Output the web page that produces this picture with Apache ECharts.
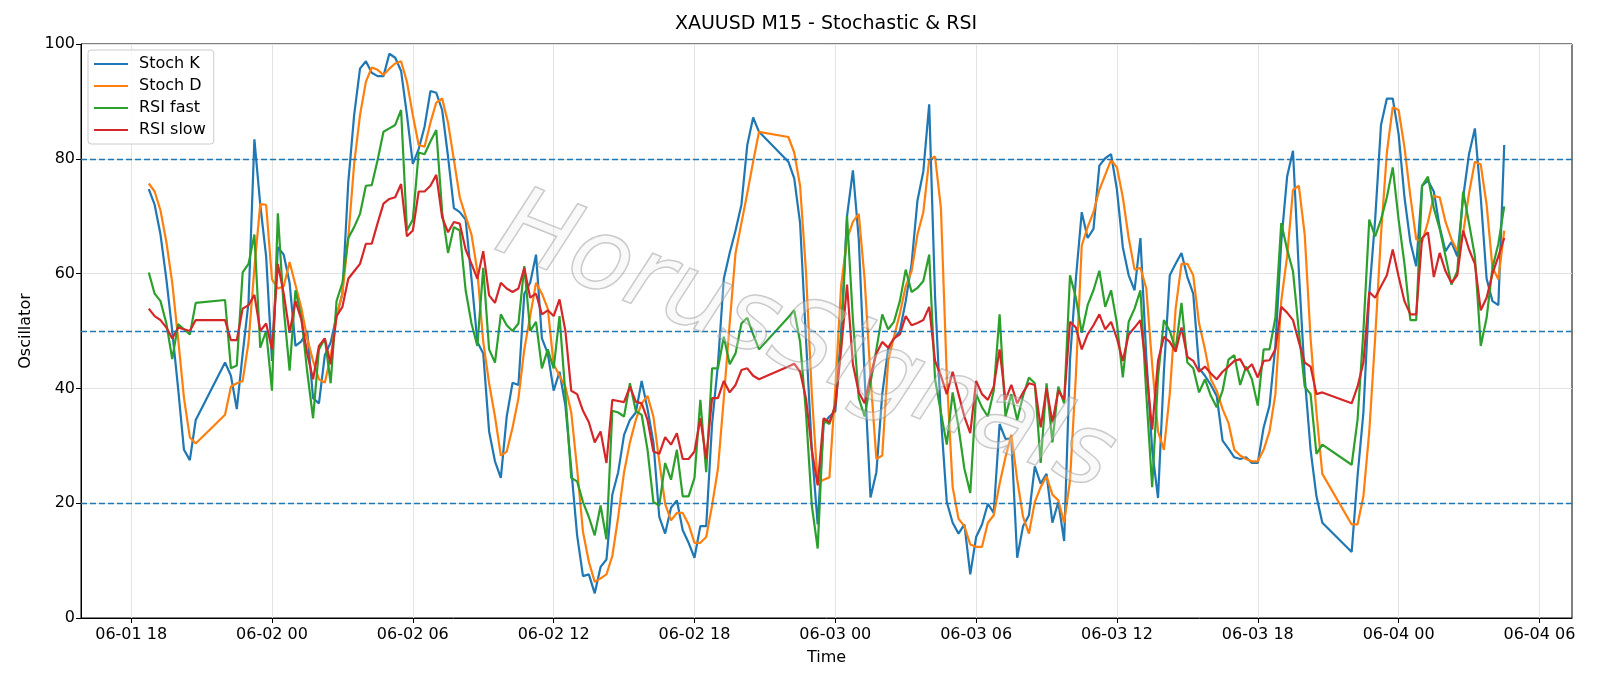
<!DOCTYPE html>
<html>
<head>
<meta charset="utf-8">
<title>XAUUSD M15 - Stochastic &amp; RSI</title>
<script src="https://cdn.jsdelivr.net/npm/echarts@6.0.0/dist/echarts.min.js"></script>
<style>
html, body { margin: 0; padding: 0; background: #fff; }
#chart { width: 1600px; height: 686px; }
</style>
</head>
<body>
<div id="chart"></div>
<script>
// M15 bars, the 21:00-21:45 break is missing each day
var times = [
    '06-01 18:45', '06-01 19:00', '06-01 19:15', '06-01 19:30', '06-01 19:45',
    '06-01 20:00', '06-01 20:15', '06-01 20:30', '06-01 20:45',
    '06-01 22:00', '06-01 22:15', '06-01 22:30', '06-01 22:45',
    '06-01 23:00', '06-01 23:15', '06-01 23:30', '06-01 23:45',
    '06-02 00:00', '06-02 00:15', '06-02 00:30', '06-02 00:45',
    '06-02 01:00', '06-02 01:15', '06-02 01:30', '06-02 01:45',
    '06-02 02:00', '06-02 02:15', '06-02 02:30', '06-02 02:45',
    '06-02 03:00', '06-02 03:15', '06-02 03:30', '06-02 03:45',
    '06-02 04:00', '06-02 04:15', '06-02 04:30', '06-02 04:45',
    '06-02 05:00', '06-02 05:15', '06-02 05:30', '06-02 05:45',
    '06-02 06:00', '06-02 06:15', '06-02 06:30', '06-02 06:45',
    '06-02 07:00', '06-02 07:15', '06-02 07:30', '06-02 07:45',
    '06-02 08:00', '06-02 08:15', '06-02 08:30', '06-02 08:45',
    '06-02 09:00', '06-02 09:15', '06-02 09:30', '06-02 09:45',
    '06-02 10:00', '06-02 10:15', '06-02 10:30', '06-02 10:45',
    '06-02 11:00', '06-02 11:15', '06-02 11:30', '06-02 11:45',
    '06-02 12:00', '06-02 12:15', '06-02 12:30', '06-02 12:45',
    '06-02 13:00', '06-02 13:15', '06-02 13:30', '06-02 13:45',
    '06-02 14:00', '06-02 14:15', '06-02 14:30', '06-02 14:45',
    '06-02 15:00', '06-02 15:15', '06-02 15:30', '06-02 15:45',
    '06-02 16:00', '06-02 16:15', '06-02 16:30', '06-02 16:45',
    '06-02 17:00', '06-02 17:15', '06-02 17:30', '06-02 17:45',
    '06-02 18:00', '06-02 18:15', '06-02 18:30', '06-02 18:45',
    '06-02 19:00', '06-02 19:15', '06-02 19:30', '06-02 19:45',
    '06-02 20:00', '06-02 20:15', '06-02 20:30', '06-02 20:45',
    '06-02 22:00', '06-02 22:15', '06-02 22:30', '06-02 22:45',
    '06-02 23:00', '06-02 23:15', '06-02 23:30', '06-02 23:45',
    '06-03 00:00', '06-03 00:15', '06-03 00:30', '06-03 00:45',
    '06-03 01:00', '06-03 01:15', '06-03 01:30', '06-03 01:45',
    '06-03 02:00', '06-03 02:15', '06-03 02:30', '06-03 02:45',
    '06-03 03:00', '06-03 03:15', '06-03 03:30', '06-03 03:45',
    '06-03 04:00', '06-03 04:15', '06-03 04:30', '06-03 04:45',
    '06-03 05:00', '06-03 05:15', '06-03 05:30', '06-03 05:45',
    '06-03 06:00', '06-03 06:15', '06-03 06:30', '06-03 06:45',
    '06-03 07:00', '06-03 07:15', '06-03 07:30', '06-03 07:45',
    '06-03 08:00', '06-03 08:15', '06-03 08:30', '06-03 08:45',
    '06-03 09:00', '06-03 09:15', '06-03 09:30', '06-03 09:45',
    '06-03 10:00', '06-03 10:15', '06-03 10:30', '06-03 10:45',
    '06-03 11:00', '06-03 11:15', '06-03 11:30', '06-03 11:45',
    '06-03 12:00', '06-03 12:15', '06-03 12:30', '06-03 12:45',
    '06-03 13:00', '06-03 13:15', '06-03 13:30', '06-03 13:45',
    '06-03 14:00', '06-03 14:15', '06-03 14:30', '06-03 14:45',
    '06-03 15:00', '06-03 15:15', '06-03 15:30', '06-03 15:45',
    '06-03 16:00', '06-03 16:15', '06-03 16:30', '06-03 16:45',
    '06-03 17:00', '06-03 17:15', '06-03 17:30', '06-03 17:45',
    '06-03 18:00', '06-03 18:15', '06-03 18:30', '06-03 18:45',
    '06-03 19:00', '06-03 19:15', '06-03 19:30', '06-03 19:45',
    '06-03 20:00', '06-03 20:15', '06-03 20:30', '06-03 20:45',
    '06-03 22:00', '06-03 22:15', '06-03 22:30', '06-03 22:45',
    '06-03 23:00', '06-03 23:15', '06-03 23:30', '06-03 23:45',
    '06-04 00:00', '06-04 00:15', '06-04 00:30', '06-04 00:45',
    '06-04 01:00', '06-04 01:15', '06-04 01:30', '06-04 01:45',
    '06-04 02:00', '06-04 02:15', '06-04 02:30', '06-04 02:45',
    '06-04 03:00', '06-04 03:15', '06-04 03:30', '06-04 03:45',
    '06-04 04:00', '06-04 04:15', '06-04 04:30'
];

var stochK = [
    74.7, 72.0, 66.8, 59.0, 50.0, 40.0, 29.3, 27.5, 34.5,
    44.5, 42.2, 36.4, 46.0,
    55.0, 83.4, 72.0, 63.0,
    44.8, 64.6, 63.3, 58.4,
    47.4, 48.2, 50.0, 38.3,
    37.4, 45.8, 48.0, 52.6,
    56.5, 75.9, 87.6, 95.7,
    97.0, 95.0, 94.4, 94.4,
    98.3, 97.6, 95.3, 87.6,
    79.1, 81.7, 85.6, 91.8,
    91.5, 88.5, 80.4, 71.4,
    70.7, 69.4, 59.1, 48.1,
    46.1, 32.5, 27.3, 24.4,
    35.1, 41.0, 40.6, 56.5,
    58.4, 63.3, 48.7, 46.1,
    39.6, 42.9, 37.0, 26.0,
    14.4, 7.3, 7.6, 4.3,
    8.9, 10.2, 21.5, 25.4,
    31.9, 34.5, 35.8, 41.3,
    36.4, 30.6, 17.6, 14.7,
    19.2, 20.5, 15.3, 13.1,
    10.5, 16.0, 16.0, 33.8,
    44.2, 59.1, 63.6, 67.5,
    72.0, 82.4, 87.2, 84.7,
    79.5, 76.6, 68.8, 48.7,
    29.3, 16.3, 33.8, 35.1,
    36.0, 50.0, 70.0, 78.0,
    66.0, 42.0, 21.0, 25.4,
    39.0, 46.8, 48.7, 50.0,
    55.2, 61.7, 72.7, 77.8,
    89.5, 56.0, 35.0, 20.2,
    16.6, 14.7, 16.3, 7.6,
    14.1, 16.3, 19.9, 18.3,
    33.8, 31.2, 31.2, 10.5,
    16.0, 17.9, 26.4, 23.4,
    25.1, 16.6, 20.2, 13.4,
    45.0, 59.1, 70.7, 66.2,
    67.8, 78.8, 80.1, 80.8,
    74.6, 64.6, 59.7, 57.1,
    66.2, 45.5, 29.3, 20.9,
    42.9, 59.7, 61.7, 63.6,
    59.4, 56.5, 43.5, 42.2,
    40.6, 38.7, 30.9, 29.5,
    28.0, 27.7, 28.0, 27.0,
    27.0, 33.2, 37.0, 47.4,
    65.5, 76.9, 81.4, 60.4,
    42.0, 29.3, 21.2, 16.6,
    11.5, 24.7, 35.8, 56.5,
    69.4, 85.9, 90.5, 90.5,
    84.3, 73.3, 65.5, 61.3,
    75.3, 76.2, 74.3, 68.1,
    63.9, 65.5, 63.0, 73.3,
    80.8, 85.3, 73.3, 59.1,
    55.2, 54.5, 82.4
];

var stochD = [
    75.7, 74.3, 71.0, 65.5, 58.4, 48.7, 38.3, 31.5, 30.4,
    35.4, 40.3, 40.9, 41.3,
    48.0, 61.0, 72.1, 72.0,
    59.0, 57.4, 57.8, 62.0,
    58.0, 54.0, 48.7, 44.8,
    41.6, 41.0, 45.5, 52.6,
    56.5, 66.2, 79.1, 87.6,
    93.4, 95.9, 95.5, 94.6,
    95.7, 96.6, 97.0, 93.4,
    87.6, 82.4, 82.1, 86.3,
    89.8, 90.5, 86.3, 79.8,
    73.3, 70.0, 66.8, 60.4,
    48.1, 40.9, 35.1, 28.3,
    29.0, 33.2, 38.3, 46.8,
    52.6, 58.4, 56.5, 53.9,
    44.2, 42.2, 40.3, 35.8,
    26.0, 15.0, 9.8, 6.3,
    6.9, 7.6, 10.8, 17.6,
    25.4, 30.6, 34.5, 37.4,
    38.7, 35.1, 27.3, 19.9,
    17.0, 18.3, 18.3, 16.3,
    13.1, 13.1, 14.1, 19.6,
    26.0, 38.3, 51.3, 63.6,
    68.8, 74.0, 79.5, 84.7,
    83.8, 81.1, 75.3, 60.4,
    39.0, 23.4, 24.1, 24.5,
    40.0, 58.0, 66.0, 69.0,
    70.4, 59.0, 42.0, 27.7,
    28.3, 44.8, 49.0, 53.0,
    57.8, 60.4, 66.8, 70.7,
    79.8, 80.4, 71.4, 42.2,
    22.8, 17.3, 16.0, 12.8,
    12.4, 12.4, 16.6, 17.9,
    23.4, 28.0, 31.9, 24.1,
    17.6, 14.7, 20.2, 22.8,
    24.7, 21.5, 20.5, 16.6,
    24.0, 42.2, 64.9, 68.1,
    70.7, 74.6, 77.2, 79.8,
    78.5, 73.3, 66.2, 60.7,
    61.0, 57.4, 44.2, 32.5,
    29.3, 39.0, 53.9, 61.7,
    61.7, 59.7, 51.3, 46.8,
    41.6, 39.6, 36.4, 34.0,
    29.3, 28.3, 27.7, 27.3,
    27.3, 29.3, 32.5, 39.0,
    55.2, 63.0, 74.6, 75.3,
    66.8, 48.7, 35.8, 25.1,
    16.3, 16.3, 21.2, 32.5,
    48.7, 66.8, 81.1, 89.0,
    88.5, 82.0, 73.5, 66.0,
    65.5, 69.0, 73.5, 73.3,
    69.0, 66.0, 64.0, 67.0,
    74.0, 79.5, 79.0, 72.0,
    61.0, 59.0, 67.5
];

var rsiFast = [
    60.2, 56.5, 55.2, 51.3, 45.1, 51.2, 50.3, 49.4, 54.9,
    55.4, 43.5, 44.0, 60.2,
    61.7, 66.8, 47.1, 50.0,
    39.6, 70.5, 53.9, 43.1,
    57.1, 52.5, 42.9, 34.8,
    46.8, 48.7, 40.9, 55.2,
    58.4, 66.2, 68.1, 70.4,
    75.3, 75.4, 79.8, 84.7,
    85.3, 85.9, 88.5, 67.5,
    69.4, 81.1, 80.8, 83.0,
    85.0, 70.7, 63.6, 68.1,
    67.5, 57.1, 51.3, 47.4,
    61.0, 46.8, 44.5, 52.9,
    51.0, 50.0, 51.3, 61.3,
    50.0, 51.6, 43.5, 46.8,
    43.5, 52.6, 39.0, 24.4,
    23.8, 20.2, 17.6, 14.4,
    19.6, 13.7, 36.1, 35.8,
    35.1, 40.9, 36.1, 35.4,
    29.3, 20.2, 19.6, 27.0,
    24.1, 29.3, 21.2, 21.2,
    24.4, 38.0, 25.4, 43.5,
    43.5, 49.0, 44.2, 46.1,
    51.3, 52.3, 49.4, 46.8,
    52.4, 53.6, 48.1, 35.8,
    19.6, 12.1, 34.5, 33.8,
    37.0, 48.0, 70.0, 52.0,
    38.3, 35.1, 41.0, 46.8,
    52.9, 50.3, 51.6, 55.2,
    60.7, 56.8, 57.5, 58.7,
    63.3, 41.6, 35.8, 30.2,
    39.3, 33.2, 26.0, 21.8,
    39.0, 36.7, 35.1, 39.6,
    52.9, 35.1, 39.0, 34.5,
    38.7, 41.9, 40.9, 27.0,
    40.9, 30.6, 40.3, 37.4,
    59.7, 55.8, 49.7, 54.5,
    57.1, 60.5, 54.2, 57.1,
    51.3, 41.9, 51.6, 53.9,
    57.1, 39.0, 22.8, 42.0,
    51.9, 50.0, 46.8, 54.9,
    44.5, 43.5, 39.3, 41.6,
    38.7, 36.7, 39.6, 45.0,
    45.8, 40.6, 43.8, 41.6,
    37.0, 46.8, 46.8, 52.3,
    68.8, 64.2, 60.4, 50.0,
    40.3, 39.0, 28.6, 30.2,
    26.7, 34.5, 50.0, 69.4,
    66.5, 69.4, 73.3, 78.5,
    69.4, 61.7, 51.9, 51.9,
    75.3, 76.9, 71.4, 67.8,
    63.0, 58.1, 60.4, 74.3,
    68.8, 63.0, 47.4, 52.3,
    61.0, 65.2, 71.7
];

var rsiSlow = [
    53.9, 52.6, 51.9, 50.6, 48.7, 50.6, 50.3, 50.0, 51.9,
    51.9, 48.4, 48.4, 53.9,
    54.5, 56.3, 50.0, 51.3,
    46.8, 61.7, 56.5, 49.7,
    55.2, 52.0, 46.1, 41.6,
    47.4, 48.7, 44.2, 52.6,
    54.2, 59.1, 60.4, 61.7,
    65.2, 65.2, 68.8, 72.2,
    73.0, 73.3, 75.6, 66.5,
    67.5, 74.3, 74.3, 75.3,
    77.2, 69.8, 67.2, 69.0,
    68.7, 64.2, 61.7, 59.1,
    63.9, 56.2, 54.9, 58.4,
    57.4, 56.8, 57.4, 61.0,
    55.8, 56.5, 52.9, 53.6,
    52.6, 55.5, 50.0, 39.6,
    39.0, 36.1, 34.1, 30.6,
    32.5, 27.0, 38.0, 37.8,
    37.6, 40.3, 37.7, 37.4,
    34.5, 29.0, 28.6, 31.5,
    30.2, 32.2, 27.7, 27.7,
    29.0, 34.8, 27.7, 38.3,
    38.3, 41.3, 39.3, 40.6,
    43.2, 43.5, 42.2, 41.6,
    43.8, 44.3, 42.9, 38.3,
    29.3, 23.1, 34.8, 34.1,
    37.0, 46.8, 58.1, 44.2,
    39.3, 37.4, 42.2, 46.1,
    48.1, 47.1, 48.7, 49.4,
    52.6, 51.0, 51.4, 51.9,
    54.2, 44.8, 42.2, 39.0,
    42.9, 39.0, 35.1, 32.2,
    41.3, 39.0, 38.0, 40.3,
    46.8, 38.0, 40.6, 37.4,
    39.3, 40.9, 40.6, 33.2,
    40.0, 34.1, 39.6, 38.0,
    51.6, 50.6, 46.8, 49.4,
    51.0, 52.9, 50.3, 51.6,
    48.7, 44.8, 49.4, 50.6,
    51.9, 43.5, 32.8, 44.8,
    49.0, 48.1, 46.4, 50.6,
    45.5, 44.8, 42.9, 43.8,
    42.6, 41.6, 42.9, 43.8,
    44.8, 45.1, 43.2, 44.2,
    41.9, 44.8, 44.9, 46.8,
    54.2, 53.2, 51.9, 48.1,
    44.5, 43.8, 39.0, 39.3,
    37.4, 40.3, 44.5, 56.8,
    55.8, 57.8, 59.7, 64.2,
    59.5, 55.2, 52.9, 52.9,
    66.2, 67.2, 59.4, 63.6,
    60.4, 58.4, 59.7, 67.5,
    64.2, 61.7, 53.6, 55.8,
    60.0, 63.0, 66.2
];

var levels = [20, 50, 80];
var xTickLabels = ['06-01 18', '06-02 00', '06-02 06', '06-02 12', '06-02 18',
    '06-03 00', '06-03 06', '06-03 12', '06-03 18', '06-04 00', '06-04 06'];

var FONT = 'DejaVu Sans';

// hours since 06-01 00:00
function toHours(t) {
    var day = parseInt(t.substr(3, 2), 10);
    var h = parseInt(t.substr(6, 2), 10);
    var m = t.length > 8 ? parseInt(t.substr(9, 2), 10) : 0;
    return (day - 1) * 24 + h + m / 60;
}

function hourLabel(v) {
    var day = Math.floor(v / 24) + 1;
    var h = Math.round(v - (day - 1) * 24);
    return '06-0' + day + ' ' + (h < 10 ? '0' + h : h);
}

function pairs(values) {
    return times.map(function(t, i) {
        return [toHours(t), values[i]];
    });
}

function lineSeries(name, values, color) {
    return {
        name: name,
        type: 'line',
        data: pairs(values),
        showSymbol: false,
        symbol: 'none',
        color: color,
        lineStyle: {width: 2.2, color: color},
        emphasis: {disabled: true},
        animation: false
    };
}

var first = toHours(times[0]);
var last = toHours(times[times.length - 1]);
var pad = (last - first) * 0.05;
var tickValues = xTickLabels.map(toHours);

var chart = echarts.init(document.getElementById('chart'), null, {renderer: 'canvas'});

var series = [
    lineSeries('Stoch K', stochK, '#1f77b4'),
    lineSeries('Stoch D', stochD, '#ff7f0e'),
    lineSeries('RSI fast', rsiFast, '#2ca02c'),
    lineSeries('RSI slow', rsiSlow, '#d62728')
];
series[0].markLine = {
    silent: true,
    symbol: ['none', 'none'],
    label: {show: false},
    lineStyle: {color: '#1f77b4', type: [6, 3], width: 1.4},
    data: levels.map(function(v) { return {yAxis: v}; })
};

var option = {
    animation: false,
    backgroundColor: '#fff',
    textStyle: {fontFamily: FONT},
    title: {
        text: 'XAUUSD M15 - Stochastic & RSI',
        left: 826,
        top: 15,
        textAlign: 'center',
        padding: 0,
        textStyle: {fontFamily: FONT, fontSize: 19, fontWeight: 'normal', color: '#000'}
    },
    legend: {
        orient: 'vertical',
        left: 88,
        top: 50,
        padding: [6, 8, 6, 6],
        itemGap: 6,
        itemWidth: 34,
        itemHeight: 2,
        icon: 'rect',
        backgroundColor: 'rgba(255,255,255,0.85)',
        borderColor: '#cccccc',
        borderWidth: 1,
        borderRadius: 3,
        textStyle: {fontFamily: FONT, fontSize: 16, color: '#000', lineHeight: 16, padding: [0, 0, 0, 6]},
        data: ['Stoch K', 'Stoch D', 'RSI fast', 'RSI slow']
    },
    grid: {
        left: 81,
        right: 28,
        top: 44,
        bottom: 68,
        show: true,
        borderColor: '#000',
        borderWidth: 1,
        containLabel: false
    },
    xAxis: {
        type: 'value',
        min: first - pad,
        max: last + pad,
        name: 'Time',
        nameLocation: 'middle',
        nameGap: 32,
        nameTextStyle: {fontFamily: FONT, fontSize: 16, color: '#000'},
        axisLine: {show: true, onZero: false, lineStyle: {color: '#000', width: 1}},
        axisTick: {show: true, length: 5, lineStyle: {color: '#000'}, customValues: tickValues},
        axisLabel: {
            fontFamily: FONT, fontSize: 16, color: '#000', margin: 9,
            customValues: tickValues,
            formatter: hourLabel
        },
        splitLine: {show: true, lineStyle: {color: '#e3e3e3', width: 1}}
    },
    yAxis: {
        type: 'value',
        min: 0,
        max: 100,
        interval: 20,
        name: 'Oscillator',
        nameLocation: 'middle',
        nameGap: 47,
        nameTextStyle: {fontFamily: FONT, fontSize: 16, color: '#000'},
        axisLine: {show: true, lineStyle: {color: '#000', width: 1}},
        axisTick: {show: true, length: 5, lineStyle: {color: '#000'}},
        axisLabel: {fontFamily: FONT, fontSize: 16, color: '#000', margin: 6},
        splitLine: {show: true, lineStyle: {color: '#e3e3e3', width: 1}}
    },
    graphic: [{
        type: 'text',
        x: 805,
        y: 345,
        rotation: -0.38,
        silent: true,
        z: 100,
        style: {
            text: 'HorusSignals',
            align: 'center',
            verticalAlign: 'middle',
            fontFamily: FONT,
            fontStyle: 'italic',
            fontSize: 100,
            fill: 'rgba(235,235,235,0.3)',
            stroke: 'rgba(140,140,140,0.5)',
            lineWidth: 1.5
        }
    }],
    series: series
};

chart.setOption(option);
</script>
</body>
</html>
